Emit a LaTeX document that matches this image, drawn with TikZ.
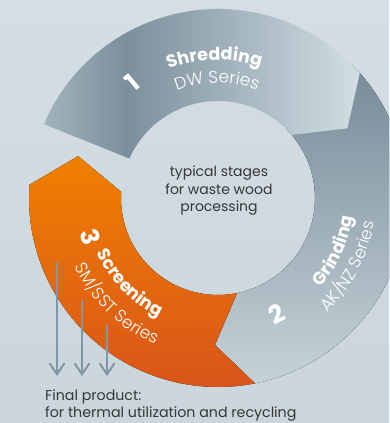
\documentclass[tikz,border=0pt]{standalone}
\usepackage{fontspec}
\setmainfont{Poppins}
\newfontfamily\lightfont{Poppins Light}
\usetikzlibrary{arrows.meta,decorations.text}
\definecolor{bgtop}{HTML}{D4DEE4}
\definecolor{bgbot}{HTML}{CAD6DC}
\definecolor{gA}{HTML}{A2B3BC}
\definecolor{gB}{HTML}{7B909C}
\definecolor{gC}{HTML}{D2DEE4}
\definecolor{gD}{HTML}{768B98}
\definecolor{gE}{HTML}{C6D2D8}
\definecolor{orA}{HTML}{EF8000}
\definecolor{orB}{HTML}{D8531B}
\definecolor{flowcol}{HTML}{7F97A2}
\definecolor{txtcol}{HTML}{363636}
\pgfdeclarehorizontalshading{shredshade}{100bp}{color(0bp)=(gA); color(25bp)=(gA); color(38bp)=(gB); color(75bp)=(gC); color(100bp)=(gC)}

\begin{document}
\begin{tikzpicture}
                [
                x=1pt,y=1pt,
                ringtitle/.style={decorate,decoration={text along path,text align=center,text color=white,
                  text={|\bfseries\fontsize{17.5}{17.5}\selectfont|#1}}},
                ringsub/.style={decorate,decoration={text along path,text align=center,text color=white,
                  text={|\lightfont\fontsize{17}{17}\selectfont|#1}}},
                numlabel/.style={text=white,font=\bfseries\fontsize{25}{25}\selectfont},
                flow/.style={draw=flowcol,line width=2pt,-{Straight Barb[length=11pt,width=15pt]}}
                ]
            \useasboundingbox (0,0) rectangle (389,423);
            \clip (0,0) rectangle (389,423);
            \fill[top color=bgtop,bottom color=bgbot] (0,0) rectangle (389,423);
            \begin{scope}[shift={(218,225)}]
            % stage 2
            \fill[top color=gD,bottom color=gE] (45:189) arc[start angle=45,end angle=-78.7,radius=189]
              -- (-91.2:147) -- (-78.7:97) arc[start angle=-78.7,end angle=45,radius=97] -- cycle;
            % stage 1
            \shade[shading=shredshade] (157:189) arc[start angle=157,end angle=41.4,radius=189]
              -- (28.3:147) -- (40.5:97) arc[start angle=40.5,end angle=156,radius=97] -- cycle;
            % stage 3
            \fill[top color=orA,bottom color=orB] (-78.7:189) arc[start angle=-78.7,end angle=-184,radius=189]
              -- (-196.7:146) -- (-183.6:97) arc[start angle=-183.6,end angle=-78.7,radius=97]
              -- (-91.2:147) -- cycle;
            % labels on the ring
            \path[ringtitle=Shredding] (131.5:138) arc[start angle=131.5,end angle=51.5,radius=138];
            \path[ringsub=DW Series] (130.5:115) arc[start angle=130.5,end angle=50.5,radius=115];
            \path[ringtitle=Grinding] (-64.5:136) arc[start angle=-64.5,end angle=15.5,radius=136];
            \path[ringsub=AK/NZ Series] (-67.6:158) arc[start angle=-67.6,end angle=12.4,radius=158];
            \path[ringtitle=Screening] (-176:133) arc[start angle=-176,end angle=-96,radius=133];
            \path[ringsub=SM/SST Series] (-173.8:159) arc[start angle=-173.8,end angle=-93.8,radius=159];
            \node[numlabel,rotate=40] (n1) at (126.6:144) {1};
            \node[numlabel,rotate=27] (n2) at (-63:130) {2};
            \node[numlabel,rotate=-73] (n3) at (-163:133) {3};
            \end{scope}
            \node[text=txtcol,align=center,font=\fontsize{14}{17.5}\selectfont] (hub) at (219,232)
              {typical stages\\for waste wood\\processing};
            % output arrows
            \coordinate (s1) at (57,161);
            \coordinate (s2) at (82,123);
            \coordinate (s3) at (107,98);
            \coordinate (e1) at (57,47);
            \coordinate (e2) at (82,47);
            \coordinate (e3) at (107,47);
            \draw[flow] (s1) -- (e1);
            \draw[flow] (s2) -- (e2);
            \draw[flow] (s3) -- (e3);
            \node[text=txtcol,anchor=base west,inner sep=0pt,font=\fontsize{14.2}{14.2}\selectfont] (fin1) at (45,23) {Final product:};
            \node[text=txtcol,anchor=base west,inner sep=0pt,font=\fontsize{14.2}{14.2}\selectfont] (fin2) at (45,5.5) {for thermal utilization and recycling};
            \end{tikzpicture}
\end{document}
